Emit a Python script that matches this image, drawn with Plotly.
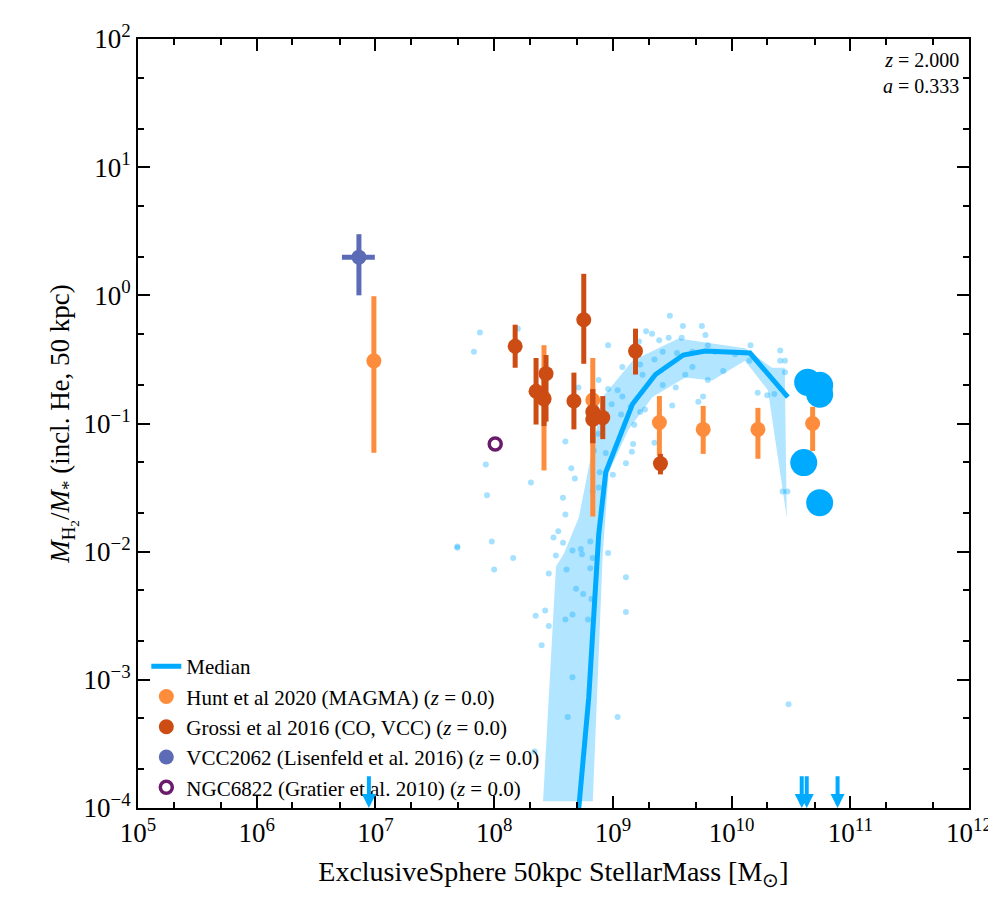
import numpy as np
import plotly.graph_objects as go

# all values stored as log10
median_lx = [8.713, 8.797, 8.881, 8.940, 9.166, 9.359, 9.593, 9.778, 10.155, 10.474]
median_ly = [-4.0, -3.137, -1.863, -1.382, -0.847, -0.618, -0.466, -0.435, -0.450, -0.794]

band_hi_lx = [8.412, 8.521, 8.588, 8.713, 8.915, 9.166, 9.552, 10.113, 10.340, 10.448]
band_hi_ly = [-3.947, -2.115, -2.015, -1.733, -0.794, -0.511, -0.336, -0.412, -0.565, -0.565]
band_lo_lx = [10.465, 10.306, 10.113, 9.837, 9.610, 9.334, 9.132, 8.965, 8.915, 8.831]
band_lo_ly = [-1.733, -0.740, -0.511, -0.664, -0.641, -0.794, -1.046, -1.382, -2.015, -3.947]

scatter_lx = [7.69, 7.98, 8.16, 8.00, 8.46, 8.35, 8.43, 8.46, 9.11, 9.11, 9.04, 10.48, 8.34, 8.40,
              8.66, 8.62, 8.60, 8.66, 8.69, 8.75, 8.61, 8.66, 8.74, 8.83, 8.81, 8.82, 8.79, 8.96,
              8.52, 8.50, 8.58, 7.88, 7.83, 8.20, 7.94, 7.93, 8.31, 8.60, 8.65, 8.68, 8.58, 8.60,
              8.54, 7.69, 9.48, 9.59, 9.75, 9.28, 9.33, 9.39, 9.47, 9.58, 9.78, 9.80, 9.86, 10.16,
              10.41, 10.45, 10.45, 10.22, 10.30, 10.36, 9.76, 9.72, 9.50, 9.35, 9.23, 9.25, 9.08,
              8.96, 9.22, 8.88, 8.96, 9.08, 9.15, 8.99, 9.07, 9.23, 9.27, 9.18, 9.35, 9.17, 9.16,
              9.11, 9.00, 8.94, 8.89, 8.88, 8.84, 8.83, 8.81, 8.73, 9.42, 9.53, 9.61, 9.67, 9.80,
              9.93, 10.03, 10.15, 9.67, 9.54, 9.42, 10.41, 10.43, 10.47, 8.88, 9.04, 8.71]
scatter_ly = [-1.96, -1.92, -2.05, -2.14, -2.17, -2.50, -2.46, -2.58, -2.20, -2.47, -3.29, -3.19,
              -3.56, -2.73, -2.98, -3.29, -2.53, -2.49, -2.29, -2.33, -2.14, -1.99, -2.02, -2.05,
              -2.13, -2.37, -2.53, -2.01, -2.03, -1.89, -1.93, -0.29, -0.44, -0.26, -1.56, -1.32,
              -1.46, -1.14, -1.35, -1.43, -1.58, -1.71, -1.84, -1.97, -0.16, -0.24, -0.24, -0.28,
              -0.30, -0.35, -0.33, -0.33, -0.31, -0.39, -0.44, -0.39, -0.43, -0.51, -0.60, -0.76,
              -0.78, -0.77, -0.79, -0.83, -0.86, -0.50, -0.54, -0.62, -0.56, -0.39, -0.36, -0.66,
              -0.73, -0.79, -0.87, -0.85, -0.93, -0.91, -0.89, -1.01, -1.15, -1.16, -1.22, -1.31,
              -1.40, -1.23, -1.38, -1.50, -1.21, -1.53, -1.92, -1.98, -0.70, -0.72, -0.62, -0.56,
              -0.66, -0.59, -0.46, -0.51, -0.44, -0.45, -0.44, -0.51, -1.53, -1.53, -1.08, -0.74,
              -0.72]

big_lx = [10.641, 10.742, 10.742, 10.608, 10.742]
big_ly = [-0.679, -0.702, -0.771, -1.305, -1.618]
arrow_lx = [6.945, 10.591, 10.633, 10.893]

hunt_lx = [6.987, 8.420, 8.831, 9.392, 9.761, 10.222, 10.683]
hunt_ly = [-0.511, -0.802, -0.817, -0.992, -1.046, -1.046, -1.000]
hunt_hi = [-0.008, -0.389, -0.489, -0.786, -0.863, -0.878, -0.870]
hunt_lo = [-1.229, -1.366, -1.725, -1.252, -1.237, -1.275, -1.214]

grossi_lx = [8.177, 8.353, 8.437, 8.420, 8.672, 8.755, 8.831, 8.831, 8.915, 9.191, 9.401]
grossi_ly = [-0.397, -0.748, -0.611, -0.809, -0.824, -0.191, -0.908, -0.969, -0.954, -0.435, -1.313]
grossi_hi = [-0.229, -0.489, -0.466, -0.603, -0.603, 0.168, -0.733, -0.733, -0.786, -0.260, -1.237]
grossi_lo = [-0.565, -1.008, -0.985, -1.020, -1.046, -0.534, -1.153, -1.153, -1.122, -0.618, -1.397]

vcc_lx, vcc_ly = 6.861, 0.298
vcc_xlo, vcc_xhi, vcc_ylo, vcc_yhi = 6.718, 6.995, 0.0, 0.477
ngc_lx, ngc_ly = 8.009, -1.160

p = lambda a: np.power(10.0, np.array(a, dtype=float))
FONT = "Liberation Serif"
BLUE = "#00aaff"
ORANGE = "#fd8d3c"
RED = "#cc4c13"

fig = go.Figure()
fig.add_trace(go.Scatter(x=p(band_hi_lx + band_lo_lx), y=p(band_hi_ly + band_lo_ly), fill="toself",
                         fillcolor="rgba(0,170,255,0.3)", line=dict(width=0), mode="lines",
                         showlegend=False, hoverinfo="skip"))
fig.add_trace(go.Scatter(x=p(scatter_lx), y=p(scatter_ly), mode="markers", showlegend=False,
                         marker=dict(color="rgba(0,170,255,0.35)", size=6)))
fig.add_trace(go.Scatter(x=p(median_lx), y=p(median_ly), mode="lines", name="Median",
                         line=dict(color=BLUE, width=5)))
fig.add_trace(go.Scatter(x=p(big_lx), y=p(big_ly), mode="markers", showlegend=False,
                         marker=dict(color=BLUE, size=27)))


def errtrace(lx, ly, hi, lo, color, name):
    y = p(ly)
    return go.Scatter(x=p(lx), y=y, mode="markers", name=name,
                      marker=dict(color=color, size=15),
                      error_y=dict(type="data", symmetric=False, array=p(hi) - y,
                                   arrayminus=y - p(lo), color=color, thickness=5, width=0))


fig.add_trace(errtrace(hunt_lx, hunt_ly, hunt_hi, hunt_lo, ORANGE,
                       "Hunt et al 2020 (MAGMA) (<i>z</i> = 0.0)"))
fig.add_trace(errtrace(grossi_lx, grossi_ly, grossi_hi, grossi_lo, RED,
                       "Grossi et al 2016 (CO, VCC) (<i>z</i> = 0.0)"))
vy = 10 ** vcc_ly
vx = 10 ** vcc_lx
fig.add_trace(go.Scatter(x=[vx], y=[vy], mode="markers", name="VCC2062 (Lisenfeld et al. 2016) (<i>z</i> = 0.0)",
                         marker=dict(color="#5b6bb5", size=15),
                         error_y=dict(type="data", symmetric=False, array=[10 ** vcc_yhi - vy],
                                      arrayminus=[vy - 10 ** vcc_ylo], color="#5b6bb5", thickness=5, width=0),
                         error_x=dict(type="data", symmetric=False, array=[10 ** vcc_xhi - vx],
                                      arrayminus=[vx - 10 ** vcc_xlo], color="#5b6bb5", thickness=5, width=0)))
fig.add_trace(go.Scatter(x=[10 ** ngc_lx], y=[10 ** ngc_ly], mode="markers",
                         name="NGC6822 (Gratier et al. 2010) (<i>z</i> = 0.0)",
                         marker=dict(color="white", size=12, line=dict(color="#6a1b6a", width=3.5))))

for ax_ in arrow_lx:
    fig.add_annotation(x=ax_, y=-4, ax=ax_, ay=-3.74, xref="x", yref="y", axref="x", ayref="y",
                       showarrow=True, arrowhead=2, arrowsize=0.7, arrowwidth=4, arrowcolor=BLUE, text="")

fig.add_annotation(x=0.99, y=0.99, xref="paper", yref="paper", xanchor="right", yanchor="top",
                   align="right", showarrow=False, font=dict(family=FONT, size=20, color="black"),
                   text="<i>z</i> = 2.000<br><i>a</i> = 0.333")


def sup(n):
    return "10<sup>%s</sup>" % (str(n).replace("-", "\u2212"))


axis_common = dict(type="log", showline=True, linecolor="black", linewidth=2, mirror="ticks",
                   ticks="inside", ticklen=12, tickwidth=1.5, tickcolor="black", showgrid=False,
                   zeroline=False, tickfont=dict(family=FONT, size=27, color="black"),
                   ticklabeloverflow="allow",
                   minor=dict(ticks="inside", ticklen=6, tickcolor="black", showgrid=False))
fig.update_xaxes(range=[5, 12], tickvals=[10 ** k for k in range(5, 13)],
                 ticktext=[sup(k) for k in range(5, 13)],
                 title=dict(text="ExclusiveSphere 50kpc StellarMass [M<sub>\u2299</sub>]", standoff=14,
                            font=dict(family=FONT, size=28, color="black")), **axis_common)
fig.update_yaxes(range=[-4, 2], tickvals=[10 ** k for k in range(-4, 3)],
                 ticktext=[sup(k) for k in range(-4, 3)],
                 title=dict(text="<i>M</i><sub>H<sub>2</sub></sub>/<i>M</i><sub>*</sub> (incl. He, 50 kpc)",
                            font=dict(family=FONT, size=27, color="black"), standoff=6), **axis_common)
fig.update_layout(width=996, height=900, plot_bgcolor="white", paper_bgcolor="white",
                  margin=dict(l=130, r=31, t=14, b=100),
                  legend=dict(x=0.01, y=0.0, xanchor="left", yanchor="bottom", bgcolor="rgba(0,0,0,0)",
                              font=dict(family=FONT, size=21, color="black"), tracegroupgap=0))
fig.write_html("out.html")
